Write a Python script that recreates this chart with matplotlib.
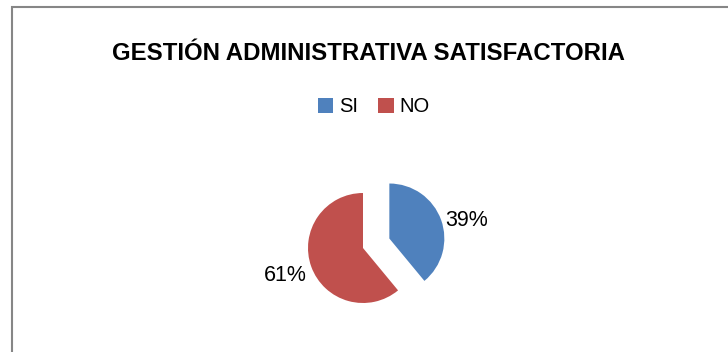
import matplotlib
matplotlib.use("Agg")
import matplotlib.pyplot as plt
from matplotlib.patches import Rectangle, Patch

plt.rcParams['font.family'] = ['Liberation Sans', 'DejaVu Sans']

categories = ['SI', 'NO']
values = [39, 61]
colors = ['#4F81BD', '#C0504D']
explode = [28, 0]  # pie explode is in data units (pixels here)
title = 'GESTIÓN ADMINISTRATIVA SATISFACTORIA'

W, H = 728, 352
fig = plt.figure(figsize=(W / 100, H / 100), dpi=100)
fig.patch.set_facecolor('white')

# outer chart border (only top and left edges visible in the crop)
fig.patches.append(Rectangle((11.5 / W, -0.5), 1.5, 0.5 + 1 - 6.5 / H,
                             transform=fig.transFigure, fill=False,
                             edgecolor='#868686', linewidth=1.5))

# axes in pixel units, y up
ax = fig.add_axes([0, 0, 1, 1])
wedges, texts, autotexts = ax.pie(values, colors=colors, explode=explode,
                                  startangle=90, counterclock=False,
                                  center=(363, H - 248), radius=55,
                                  autopct='%1.0f%%', pctdistance=1.5,
                                  wedgeprops={'linewidth': 0},
                                  textprops={'fontsize': 15.5, 'color': 'black'})
# excel puts the SI label a bit lower than the wedge mid angle
x, y = autotexts[0].get_position()
autotexts[0].set_position((x, y - 10))

ax.set_xlim(0, W)
ax.set_ylim(0, H)
ax.set_aspect('equal')
ax.axis('off')

fig.text(368 / W, 1 - 54 / H, title, ha='center', va='center',
         fontsize=17.3, fontweight='bold')

handles = [Patch(facecolor=c, edgecolor='none') for c in colors]
fig.legend(handles, categories, loc='center', bbox_to_anchor=(374 / W, 1 - 107 / H),
           ncol=2, frameon=False, fontsize=14.5, handlelength=0.75, handleheight=0.75,
           handletextpad=0.3, columnspacing=1.0)

fig.savefig('out.png', dpi=100)
